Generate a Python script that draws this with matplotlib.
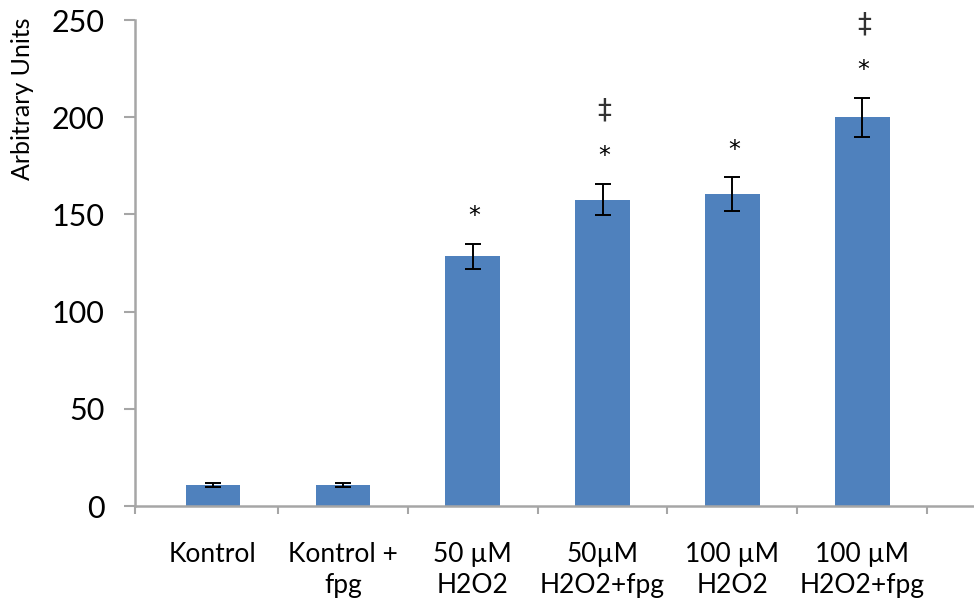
import matplotlib
matplotlib.use("Agg")
import matplotlib.pyplot as plt
import numpy as np

plt.rcParams['font.family'] = ['Lato', 'DejaVu Sans']

# Dane
kategorie = ["Kontrol", "Kontrol +\nfpg", "50 µM\nH2O2", "50µM\nH2O2+fpg", "100 µM\nH2O2", "100 µM\nH2O2+fpg"]
srednie = [11, 11, 128.5, 157.5, 160.5, 200]
bledy = [1, 1, 6.5, 8, 8.5, 10]
pokaz_gwiazdke = [False, False, True, True, True, True]
pokaz_sztylet = [False, False, False, True, False, True]

szary = "#a6a6a6"

fig = plt.figure(figsize=(9.74, 6.08), dpi=100)
ax = fig.add_axes([135 / 974, 102 / 608, 1 - 135 / 974, (506 - 20) / 608])

x = np.arange(len(kategorie))
ax.bar(x, srednie, width=0.42, color="#4f81bd", zorder=2)
ax.errorbar(x, srednie, yerr=bledy, fmt="none", ecolor="black", elinewidth=1.4,
            capsize=6, capthick=1.4, zorder=3)

# Oznaczenia istotnosci nad slupkami
for i in range(len(x)):
    gora = srednie[i] + bledy[i]
    if pokaz_gwiazdke[i]:
        ax.annotate("*", xy=(x[i], gora), xytext=(1, 20), textcoords="offset points",
                    ha="center", va="center", fontsize=17, family="DejaVu Sans", color="black")
    if pokaz_sztylet[i]:
        ax.annotate("‡", xy=(x[i], gora), xytext=(1, 53), textcoords="offset points",
                    ha="center", va="center", fontsize=20, family="DejaVu Sans", color="#333333")

xmin, xmax = -0.6, 5.86
ax.set_ylim(0, 250)
ax.set_xlim(xmin, xmax)
ax.set_yticks([0, 50, 100, 150, 200, 250])
ax.tick_params(axis="y", length=8, width=1.5, color=szary, labelsize=22, pad=14)

ax.set_xticks(x)
ax.set_xticklabels(kategorie, fontsize=19, linespacing=1.3)
ax.set_xticks([xmin] + list(np.arange(0.5, 6, 1)), minor=True)
ax.tick_params(axis="x", which="major", length=0, pad=26)
ax.tick_params(axis="x", which="minor", length=6, width=1.5, color=szary)

for s in ["top", "right"]:
    ax.spines[s].set_visible(False)
for s in ["left", "bottom"]:
    ax.spines[s].set_color(szary)
    ax.spines[s].set_linewidth(1.8)

fig.text(23 / 974, 1 - 17 / 608, "Arbitrary Units", rotation=90, ha="center", va="top", fontsize=18)

fig.savefig("out.png", dpi=100)
